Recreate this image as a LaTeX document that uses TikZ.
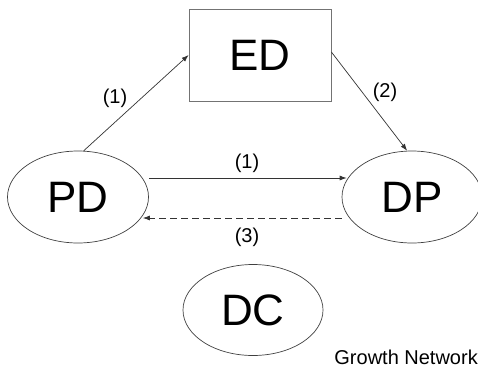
\documentclass[tikz,border=0pt]{standalone}
\usepackage{fontspec}
\setmainfont{Liberation Sans}
\usetikzlibrary{shapes.geometric,arrows.meta}
\begin{document}
\begin{tikzpicture}[x=1pt,y=1pt,
  bigtext/.style={font=\fontsize{44}{44}\selectfont},
  ell/.style={ellipse,draw=black!75,line width=0.7pt,minimum width=141pt,minimum height=92pt,inner sep=0pt,bigtext},
  boxed/.style={rectangle,draw=black!55,line width=0.8pt,minimum width=142pt,minimum height=92pt,inner sep=0pt,bigtext},
  lab/.style={font=\fontsize{20}{20}\selectfont,inner sep=0pt},
  arr/.style={draw=black!80,line width=0.7pt,-{Latex[length=7pt,width=5pt]}}]
\useasboundingbox (0,0) rectangle (478,368);
\node[boxed] (ED) at (260,313) {ED};
\node[ell] (PD) at (78,171) {PD};
\node[ell,minimum width=140pt] (DP) at (412,171) {DP};
\node[ell,minimum width=140pt,minimum height=91pt] (DC) at (253,58) {DC};
\node[anchor=base east,font=\fontsize{20}{20}\selectfont,inner sep=0pt] (GN) at (478,4) {Growth Network};
\draw[arr] (PD.83) -- (ED.west);
\draw[arr] ([yshift=3pt]ED.east) -- (DP.96);
\draw[arr] ([yshift=19pt]PD.east) -- ([yshift=19pt,xshift=5pt]DP.west);
\draw[arr,dashed,dash pattern=on 7pt off 4pt] ([yshift=-21pt]DP.west) -- ([yshift=-21pt,xshift=-6pt]PD.east);
\node[lab] (L1) at (115,270) {(1)};
\node[lab] (L2) at (385,276) {(2)};
\node[lab] (L3) at (247,205) {(1)};
\node[lab] (L4) at (247,131) {(3)};
\end{tikzpicture}
\end{document}
